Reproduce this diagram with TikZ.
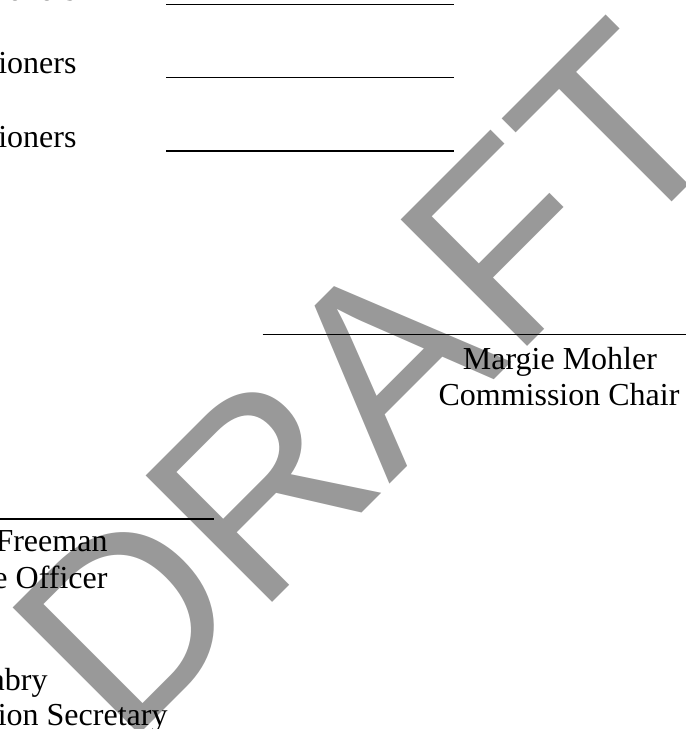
\documentclass[tikz,border=0pt]{standalone}
\usepackage{fontspec}
\setmainfont{Liberation Serif}
\newfontfamily\wmfamily[Kerning=Off]{Liberation Sans}
\definecolor{wmgray}{RGB}{153,153,153}
\tikzset{
  txt/.style={inner sep=0pt, outer sep=0pt, font=\fontsize{32}{36}\selectfont, text=black},
  blankline/.style={line width=1.9pt, black},
  sigline/.style={line width=1.4pt, black},
  watermark/.style={inner sep=0pt, outer sep=0pt, rotate=45, anchor=base west, text=wmgray,
    font=\wmfamily\fontsize{260}{260}\selectfont}
}
\begin{document}
\begin{tikzpicture}[x=1pt,y=-1pt]
\useasboundingbox (0,0) rectangle (686,729);
\clip (0,0) rectangle (686,729);
% watermark
\node[watermark] (wm) at (124.4,749.8) {DRAFT};
% commissioner rows
\node[txt, anchor=base east] (r1) at (76.5,0.8) {ioners};
\node[txt, anchor=base east] (r2) at (76.5,73) {ioners};
\node[txt, anchor=base east] (r3) at (76.5,147) {ioners};
\coordinate (l1a) at (166,4.5);  \coordinate (l1b) at (454,4.5);
\coordinate (l2a) at (166,77.5); \coordinate (l2b) at (454,77.5);
\coordinate (l3a) at (166,151.4); \coordinate (l3b) at (454,151.4);
\draw[blankline] (l1a) -- (l1b);
\draw[blankline] (l2a) -- (l2b);
\draw[blankline] (l3a) -- (l3b);
% chair signature
\coordinate (c1) at (262.7,334.5); \coordinate (c2) at (690,334.5);
\draw[sigline] (c1) -- (c2);
\node[txt, anchor=base] (chairname) at (560,369) {Margie Mohler};
\node[txt, anchor=base] (chairtitle) at (559,405) {Commission Chair};
% officer signature
\coordinate (o1) at (-5,518.8); \coordinate (o2) at (214,518.8);
\draw[sigline] (o1) -- (o2);
\node[txt, anchor=base east] (offname) at (107.5,551.7) {Freeman};
\node[txt, anchor=base east] (offtitle) at (107.5,588.3) {e Officer};
% secretary
\node[txt, anchor=base east] (secname) at (47.5,690) {abry};
\node[txt, anchor=base east] (sectitle) at (167.5,725) {ion Secretary};
\end{tikzpicture}
\end{document}
